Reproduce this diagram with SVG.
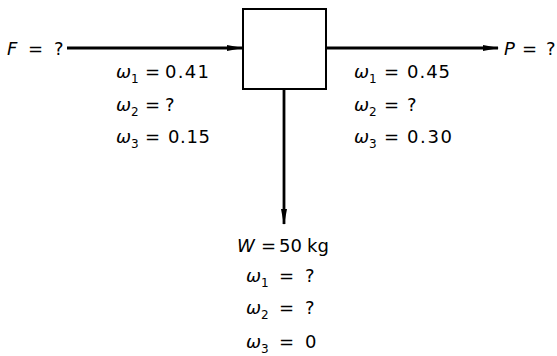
<svg xmlns="http://www.w3.org/2000/svg" width="557" height="356" viewBox="0 0 557 356">
<defs>
<style>
text{font-family:"DejaVu Sans","Liberation Sans",Arial,sans-serif;font-size:18px;fill:#000}
.i{font-style:italic}
.s{font-size:12px}
.ln{stroke:#000;stroke-width:2.8;fill:none}
</style>
<marker id="ah" markerWidth="16" markerHeight="8" refX="15" refY="4" orient="auto" markerUnits="userSpaceOnUse">
<path d="M0,1 L16,4 L0,7 Z" fill="#000"/>
</marker>
</defs>
<rect width="557" height="356" fill="#fff"/>
<g id="connectors">
<line class="ln" x1="67" y1="48" x2="242" y2="48" marker-end="url(#ah)"/>
<line class="ln" x1="326" y1="48" x2="498" y2="48" marker-end="url(#ah)"/>
<line class="ln" x1="284" y1="89" x2="284" y2="224" marker-end="url(#ah)"/>
</g>
<g id="process">
<rect x="243" y="9" width="83" height="80" fill="#fff" stroke="#000" stroke-width="2"/>
</g>
<g id="feed">
<text y="55"><tspan x="7" class="i">F</tspan><tspan x="28">=</tspan><tspan x="54">?</tspan></text>
<text y="78"><tspan x="116" class="i">ω</tspan><tspan class="s" dy="5">1</tspan><tspan x="145" dy="-5">=</tspan><tspan x="165" textLength="44" lengthAdjust="spacing">0.41</tspan></text>
<text y="111"><tspan x="116" class="i">ω</tspan><tspan class="s" dy="5">2</tspan><tspan x="145" dy="-5">=</tspan><tspan x="165">?</tspan></text>
<text y="143"><tspan x="116" class="i">ω</tspan><tspan class="s" dy="5">3</tspan><tspan x="145" dy="-5">=</tspan><tspan x="168" textLength="42" lengthAdjust="spacing">0.15</tspan></text>
</g>
<g id="product">
<text y="55"><tspan x="504" class="i">P</tspan><tspan x="522">=</tspan><tspan x="546">?</tspan></text>
<text y="78"><tspan x="354" class="i">ω</tspan><tspan class="s" dy="5">1</tspan><tspan x="384" dy="-5">=</tspan><tspan x="407" textLength="43" lengthAdjust="spacing">0.45</tspan></text>
<text y="111"><tspan x="354" class="i">ω</tspan><tspan class="s" dy="5">2</tspan><tspan x="384" dy="-5">=</tspan><tspan x="407">?</tspan></text>
<text y="143"><tspan x="354" class="i">ω</tspan><tspan class="s" dy="5">3</tspan><tspan x="384" dy="-5">=</tspan><tspan x="407" textLength="45" lengthAdjust="spacing">0.30</tspan></text>
</g>
<g id="waste">
<text y="252"><tspan x="237" class="i">W</tspan><tspan x="261">=</tspan><tspan x="279">50</tspan><tspan x="307">kg</tspan></text>
<text y="282"><tspan x="246" class="i">ω</tspan><tspan class="s" dy="5">1</tspan><tspan x="279" dy="-5">=</tspan><tspan x="305">?</tspan></text>
<text y="314"><tspan x="246" class="i">ω</tspan><tspan class="s" dy="5">2</tspan><tspan x="279" dy="-5">=</tspan><tspan x="305">?</tspan></text>
<text y="348"><tspan x="246" class="i">ω</tspan><tspan class="s" dy="5">3</tspan><tspan x="279" dy="-5">=</tspan><tspan x="305">0</tspan></text>
</g>
</svg>
